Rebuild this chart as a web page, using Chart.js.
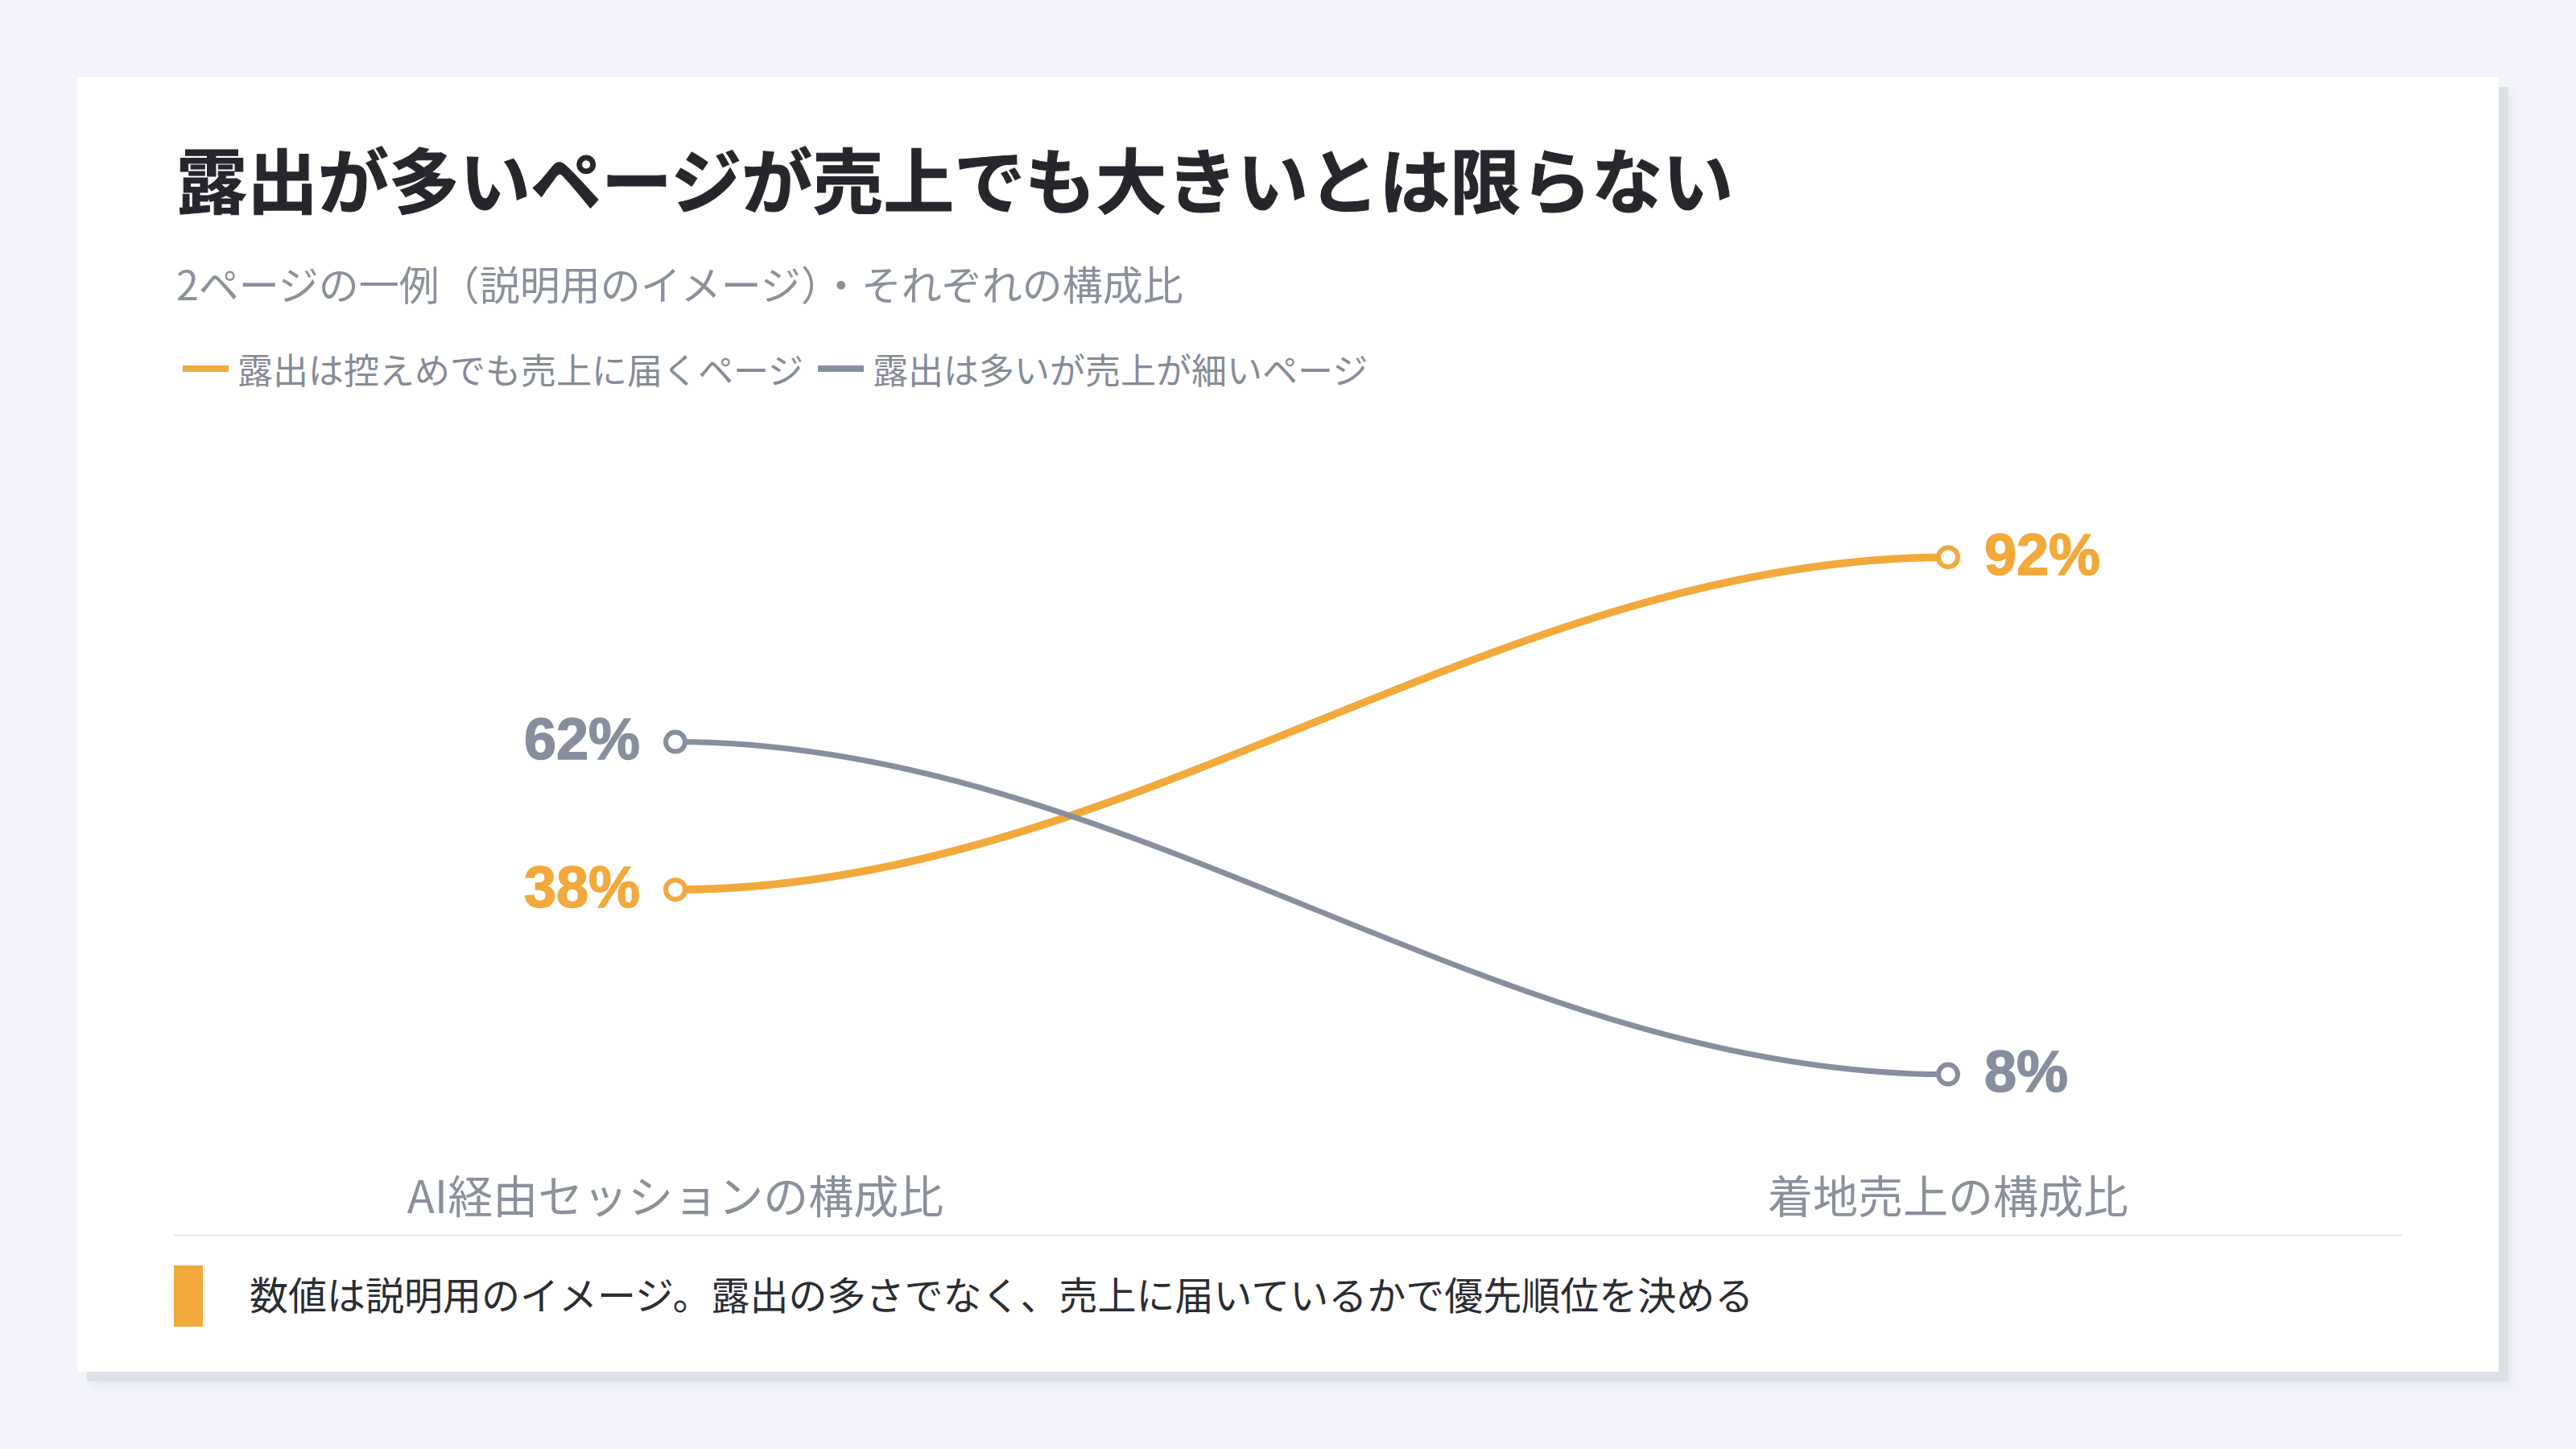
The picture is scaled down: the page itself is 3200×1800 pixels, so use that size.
<!DOCTYPE html>
<html lang="ja">
<head>
<meta charset="utf-8">
<script src="https://cdn.jsdelivr.net/npm/chart.js@4.4.1/dist/chart.umd.min.js"></script>
<style>
  html, body { margin: 0; padding: 0; }
  body { width: 3200px; height: 1800px; background: #f3f4f8; position: relative; overflow: hidden;
         font-family: "Noto Sans CJK JP", "Noto Sans", sans-serif; }
  .card { position: absolute; left: 96px; top: 96px; width: 3008px; height: 1608px; background: #ffffff;
          box-shadow: 12px 12px 0 #dde0e6, 18px 18px 8px rgba(221,224,230,0.45); }
  .title { position: absolute; left: 219px; top: 176px; font-size: 88px; line-height: 1; font-weight: 700; color: #25272d; white-space: nowrap; -webkit-text-stroke: 1px #25272d; }
  .subtitle { position: absolute; left: 219px; top: 326px; font-size: 50px; line-height: 1; color: #8a909c; white-space: nowrap; }
  .legend { position: absolute; left: 227px; top: 434px; height: 48px; display: flex; align-items: center; font-size: 44px; line-height: 1; color: #858b97; white-space: nowrap; }
  .legend .item { display: flex; align-items: center; margin-right: 18px; }
  .legend .sw { width: 57px; height: 8px; margin-right: 11px; }
  .divider { position: absolute; left: 216px; top: 1533px; width: 2768px; height: 3px; background: #eceef2; }
  .fbar { position: absolute; left: 216px; top: 1572px; width: 36px; height: 76px; background: #f2a93b; }
  .ftext { position: absolute; left: 310px; top: 1582px; font-size: 48px; line-height: 1; color: #2b2d33; white-space: nowrap; }
  canvas#c { position: absolute; left: 0; top: 0; }
</style>
</head>
<body>
<div class="card"></div>
<div class="title" id="title"></div>
<div class="subtitle" id="subtitle"></div>
<div class="legend" id="legend"></div>
<div class="divider"></div>
<div class="fbar"></div>
<div class="ftext" id="ftext"></div>
<canvas id="c" width="3200" height="1800"></canvas>
<script>
// ---- data ----
const titleText = "露出が多いページが売上でも大きいとは限らない";
const subtitleText = "2ページの一例（説明用のイメージ）・それぞれの構成比";
const footnoteText = "数値は説明用のイメージ。露出の多さでなく、売上に届いているかで優先順位を決める";
const categories = ["AI経由セッションの構成比", "着地売上の構成比"];
const seriesNames = ["露出は控えめでも売上に届くページ", "露出は多いが売上が細いページ"];
const seriesA = [38, 92];   // 露出は控えめでも売上に届くページ
const seriesB = [62, 8];    // 露出は多いが売上が細いページ
const seriesColors = ["#f2a93b", "#878f9e"];
const lineWidths = [9.5, 7];

document.getElementById('title').textContent = titleText;
document.getElementById('subtitle').textContent = subtitleText;
document.getElementById('ftext').textContent = footnoteText;
const legendEl = document.getElementById('legend');
seriesNames.forEach((n, i) => {
  const it = document.createElement('div'); it.className = 'item';
  const sw = document.createElement('div'); sw.className = 'sw'; sw.style.background = seriesColors[i];
  const tx = document.createElement('span'); tx.textContent = n;
  it.appendChild(sw); it.appendChild(tx); legendEl.appendChild(it);
});

// S-curve connector drawn from the library's point elements
const curvePlugin = {
  id: 'curves',
  beforeDatasetsDraw(chart) {
    const ctx = chart.ctx;
    chart.data.datasets.forEach((ds, di) => {
      const meta = chart.getDatasetMeta(di);
      const pts = meta.data;
      ctx.save();
      ctx.strokeStyle = ds.borderColor;
      ctx.lineWidth = ds.curveWidth;
      ctx.lineCap = 'round';
      ctx.beginPath();
      ctx.moveTo(pts[0].x, pts[0].y);
      for (let i = 1; i < pts.length; i++) {
        const p0 = pts[i - 1], p1 = pts[i];
        const dx = p1.x - p0.x, k = 0.355;
        ctx.bezierCurveTo(p0.x + dx * k, p0.y, p1.x - dx * k, p1.y, p1.x, p1.y);
      }
      ctx.stroke();
      ctx.restore();
    });
  },
  afterDatasetsDraw(chart) {
    const ctx = chart.ctx;
    chart.data.datasets.forEach((ds, di) => {
      const meta = chart.getDatasetMeta(di);
      meta.data.forEach((pt, i) => {
        ctx.save();
        ctx.fillStyle = ds.borderColor;
        ctx.strokeStyle = ds.borderColor;
        ctx.lineWidth = 1.5;
        ctx.font = 'bold 72px "Liberation Sans", Arial, sans-serif';
        ctx.textBaseline = 'middle';
        const txt = ds.data[i] + '%';
        if (i === 0) { ctx.textAlign = 'right'; ctx.fillText(txt, pt.x - 44, pt.y + 2); ctx.strokeText(txt, pt.x - 44, pt.y + 2); }
        else { ctx.textAlign = 'left'; ctx.fillText(txt, pt.x + 45, pt.y + 2); ctx.strokeText(txt, pt.x + 45, pt.y + 2); }
        ctx.restore();
      });
    });
  }
};

new Chart(document.getElementById('c'), {
  type: 'line',
  data: {
    labels: categories,
    datasets: [seriesA, seriesB].map((d, i) => ({
      label: seriesNames[i],
      data: d,
      borderColor: seriesColors[i],
      backgroundColor: '#ffffff',
      showLine: false,
      curveWidth: lineWidths[i],
      pointRadius: 12,
      pointBorderWidth: 6,
      pointBackgroundColor: '#ffffff',
      pointBorderColor: seriesColors[i],
      clip: false
    }))
  },
  options: {
    responsive: false,
    animation: false,
    devicePixelRatio: 1,
    layout: { padding: { left: 839, right: 780, top: 631, bottom: 233 } },
    plugins: { legend: { display: false }, tooltip: { enabled: false }, title: { display: false } },
    scales: {
      x: {
        type: 'category',
        offset: false,
        grid: { display: false },
        border: { display: false },
        ticks: { color: '#8a909c', padding: 48, maxRotation: 0, autoSkip: false,
                 font: { family: '"Noto Sans CJK JP", sans-serif', size: 56 } }
      },
      y: { display: false, min: 0, max: 100 }
    }
  },
  plugins: [curvePlugin]
});
</script>
</body>
</html>
